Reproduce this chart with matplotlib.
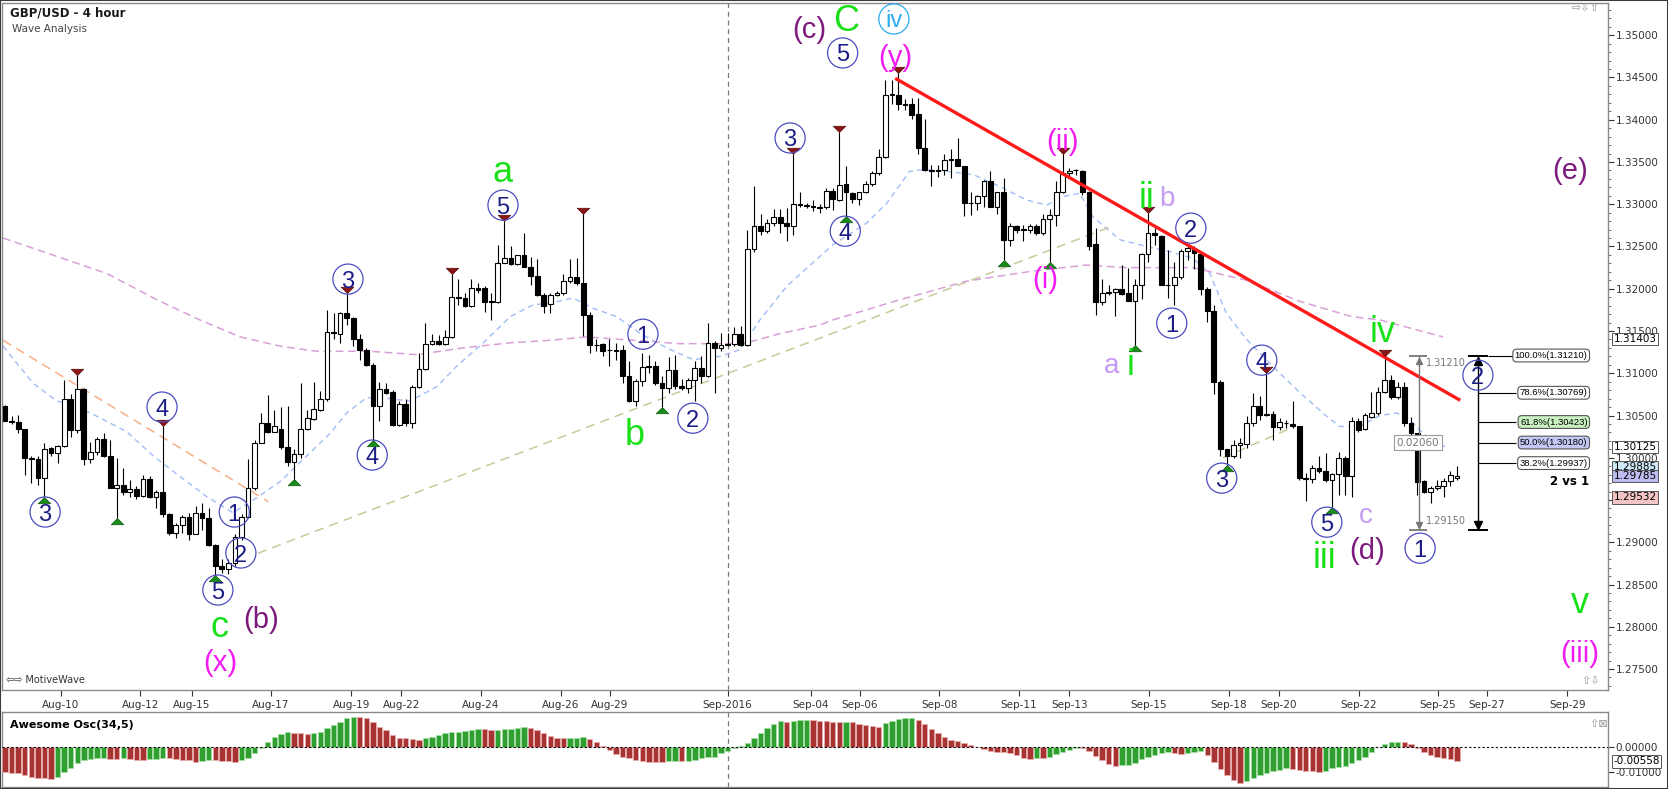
"""GBP/USD 4 hour wave analysis chart with Awesome Oscillator panel."""
import matplotlib

matplotlib.use("Agg")
import matplotlib.pyplot as plt
import matplotlib.transforms as mtransforms
from matplotlib.patches import Rectangle
from matplotlib.ticker import FormatStrFormatter, MultipleLocator
import numpy as np

# ---- 4h candles ----
opens = [
    1.3061, 1.3044, 1.3042, 1.3034, 1.3000, 1.2998, 1.2976, 1.3011, 1.3006, 1.3014,
    1.3069, 1.3033, 1.3081, 1.2998, 1.3007, 1.3022, 1.3002, 1.2964, 1.2968, 1.2960,
    1.2963, 1.2955, 1.2975, 1.2953, 1.2959, 1.2933, 1.2911, 1.2920, 1.2930, 1.2910,
    1.2935, 1.2929, 1.2897, 1.2872, 1.2868, 1.2876, 1.2906, 1.2930, 1.2964, 1.3018,
    1.3041, 1.3031, 1.3034, 1.3013, 1.2995, 1.3005, 1.3034, 1.3046, 1.3057, 1.3070,
    1.3149, 1.3147, 1.3171, 1.3165, 1.3140, 1.3128, 1.3110, 1.3061, 1.3081, 1.3078,
    1.3039, 1.3064, 1.3041, 1.3084, 1.3105, 1.3135, 1.3138, 1.3135, 1.3143, 1.3190,
    1.3189, 1.3179, 1.3201, 1.3201, 1.3184, 1.3184, 1.3231, 1.3236, 1.3229, 1.3240,
    1.3226, 1.3215, 1.3192, 1.3182, 1.3193, 1.3195, 1.3209, 1.3214, 1.3207, 1.3169,
    1.3134, 1.3135, 1.3127, 1.3127, 1.3127, 1.3097, 1.3067, 1.3091, 1.3107, 1.3108,
    1.3088, 1.3083, 1.3104, 1.3085, 1.3083, 1.3092, 1.3106, 1.3097, 1.3136, 1.3130,
    1.3134, 1.3135, 1.3147, 1.3133, 1.3247, 1.3274, 1.3268, 1.3278, 1.3285, 1.3278,
    1.3274, 1.3300, 1.3299, 1.3298, 1.3297, 1.3297, 1.3316, 1.3305, 1.3324, 1.3313,
    1.3306, 1.3314, 1.3324, 1.3337, 1.3356, 1.3429, 1.3429, 1.3418, 1.3418, 1.3407,
    1.3366, 1.3340, 1.3340, 1.3340, 1.3352, 1.3353, 1.3345, 1.3301, 1.3301, 1.3310,
    1.3327, 1.3297, 1.3315, 1.3258, 1.3274, 1.3270, 1.3270, 1.3274, 1.3266, 1.3282,
    1.3287, 1.3314, 1.3337, 1.3340, 1.3339, 1.3315, 1.3253, 1.3184, 1.3195, 1.3196,
    1.3200, 1.3195, 1.3186, 1.3205, 1.3241, 1.3266, 1.3262, 1.3205, 1.3204, 1.3214,
    1.3245, 1.3248, 1.3241, 1.3200, 1.3174, 1.3090, 1.3010, 1.3002, 1.3015, 1.3016,
    1.3041, 1.3061, 1.3051, 1.3052, 1.3036, 1.3041, 1.3040, 1.3037, 1.2976, 1.2975,
    1.2988, 1.2984, 1.2974, 1.2981, 1.3000, 1.2978, 1.3044, 1.3034, 1.3048, 1.3053,
    1.3078, 1.3092, 1.3072, 1.3084, 1.3041, 1.3029, 1.2972, 1.2959, 1.2964, 1.2966,
    1.2972, 1.2976,
]
highs = [
    1.3062, 1.3049, 1.3051, 1.3034, 1.3002, 1.3002, 1.3017, 1.3013, 1.3015, 1.3092,
    1.3076, 1.3098, 1.3082, 1.3019, 1.3025, 1.3029, 1.3021, 1.3000, 1.2988, 1.2974,
    1.2966, 1.2980, 1.2978, 1.2962, 1.3037, 1.2935, 1.2923, 1.2932, 1.2935, 1.2943,
    1.2947, 1.2941, 1.2898, 1.2880, 1.2880, 1.2910, 1.2934, 1.2998, 1.3021, 1.3053,
    1.3074, 1.3057, 1.3060, 1.3061, 1.3010, 1.3088, 1.3057, 1.3090, 1.3079, 1.3175,
    1.3171, 1.3173, 1.3195, 1.3167, 1.3147, 1.3130, 1.3112, 1.3090, 1.3088, 1.3080,
    1.3067, 1.3069, 1.3086, 1.3124, 1.3159, 1.3147, 1.3145, 1.3151, 1.3218, 1.3211,
    1.3195, 1.3212, 1.3207, 1.3203, 1.3195, 1.3252, 1.3280, 1.3250, 1.3240, 1.3266,
    1.3237, 1.3235, 1.3195, 1.3195, 1.3197, 1.3218, 1.3235, 1.3236, 1.3289, 1.3173,
    1.3141, 1.3136, 1.3140, 1.3136, 1.3134, 1.3114, 1.3093, 1.3124, 1.3122, 1.3114,
    1.3097, 1.3119, 1.3122, 1.3093, 1.3094, 1.3114, 1.3120, 1.3160, 1.3138, 1.3148,
    1.3148, 1.3155, 1.3156, 1.3270, 1.3321, 1.3289, 1.3282, 1.3294, 1.3294, 1.3295,
    1.3360, 1.3315, 1.3301, 1.3305, 1.3300, 1.3319, 1.3319, 1.3385, 1.3345, 1.3315,
    1.3315, 1.3327, 1.3339, 1.3365, 1.3447, 1.3447, 1.3455, 1.3425, 1.3426, 1.3426,
    1.3401, 1.3347, 1.3347, 1.3360, 1.3365, 1.3378, 1.3345, 1.3315, 1.3311, 1.3329,
    1.3339, 1.3315, 1.3331, 1.3278, 1.3276, 1.3276, 1.3277, 1.3277, 1.3289, 1.3294,
    1.3327, 1.3360, 1.3343, 1.3342, 1.3341, 1.3316, 1.3272, 1.3212, 1.3205, 1.3201,
    1.3228, 1.3225, 1.3211, 1.3242, 1.3290, 1.3272, 1.3263, 1.3246, 1.3232, 1.3247,
    1.3250, 1.3250, 1.3243, 1.3202, 1.3181, 1.3092, 1.3010, 1.3021, 1.3023, 1.3049,
    1.3077, 1.3073, 1.3100, 1.3055, 1.3047, 1.3045, 1.3067, 1.3038, 1.2982, 1.2991,
    1.3002, 1.3006, 1.2982, 1.3007, 1.3002, 1.3048, 1.3047, 1.3053, 1.3078, 1.3084,
    1.3121, 1.3098, 1.3090, 1.3090, 1.3048, 1.3029, 1.2974, 1.2966, 1.2974, 1.2976,
    1.2984, 1.2990,
]
lows = [
    1.3043, 1.3040, 1.3029, 1.2980, 1.2970, 1.2968, 1.2954, 1.3002, 1.2994, 1.3013,
    1.3025, 1.3029, 1.2992, 1.2994, 1.3003, 1.3001, 1.2964, 1.2929, 1.2956, 1.2954,
    1.2951, 1.2954, 1.2952, 1.2940, 1.2930, 1.2909, 1.2905, 1.2911, 1.2903, 1.2910,
    1.2915, 1.2895, 1.2861, 1.2864, 1.2862, 1.2872, 1.2903, 1.2929, 1.2962, 1.3017,
    1.3029, 1.3030, 1.3010, 1.2990, 1.2975, 1.3000, 1.3033, 1.3045, 1.3055, 1.3067,
    1.3140, 1.3136, 1.3157, 1.3132, 1.3116, 1.3108, 1.3021, 1.3043, 1.3075, 1.3037,
    1.3037, 1.3037, 1.3035, 1.3082, 1.3104, 1.3133, 1.3133, 1.3133, 1.3142, 1.3181,
    1.3178, 1.3178, 1.3195, 1.3173, 1.3163, 1.3183, 1.3230, 1.3228, 1.3228, 1.3226,
    1.3205, 1.3191, 1.3171, 1.3171, 1.3191, 1.3193, 1.3207, 1.3205, 1.3144, 1.3124,
    1.3126, 1.3120, 1.3108, 1.3116, 1.3088, 1.3066, 1.3061, 1.3085, 1.3100, 1.3086,
    1.3060, 1.3077, 1.3081, 1.3080, 1.3077, 1.3067, 1.3088, 1.3095, 1.3077, 1.3126,
    1.3132, 1.3132, 1.3132, 1.3132, 1.3244, 1.3264, 1.3266, 1.3274, 1.3266, 1.3256,
    1.3264, 1.3297, 1.3295, 1.3292, 1.3290, 1.3294, 1.3293, 1.3304, 1.3286, 1.3302,
    1.3299, 1.3313, 1.3322, 1.3335, 1.3355, 1.3419, 1.3411, 1.3411, 1.3401, 1.3360,
    1.3339, 1.3321, 1.3332, 1.3334, 1.3331, 1.3345, 1.3286, 1.3287, 1.3293, 1.3297,
    1.3297, 1.3289, 1.3234, 1.3251, 1.3266, 1.3256, 1.3266, 1.3264, 1.3264, 1.3232,
    1.3274, 1.3313, 1.3332, 1.3334, 1.3311, 1.3246, 1.3169, 1.3181, 1.3193, 1.3168,
    1.3193, 1.3186, 1.3134, 1.3188, 1.3232, 1.3252, 1.3204, 1.3189, 1.3181, 1.3212,
    1.3234, 1.3223, 1.3193, 1.3161, 1.3075, 1.3002, 1.2992, 1.3000, 1.3000, 1.3012,
    1.3037, 1.3045, 1.3050, 1.3021, 1.3033, 1.3035, 1.3035, 1.2974, 1.2949, 1.2970,
    1.2982, 1.2971, 1.2942, 1.2956, 1.2956, 1.2954, 1.3031, 1.3033, 1.3047, 1.3051,
    1.3077, 1.3069, 1.3069, 1.3037, 1.3025, 1.2956, 1.2958, 1.2946, 1.2962, 1.2954,
    1.2966, 1.2974,
]
closes = [
    1.3044, 1.3042, 1.3034, 1.3000, 1.2998, 1.2976, 1.3010, 1.3006, 1.3014, 1.3069,
    1.3033, 1.3081, 1.2998, 1.3007, 1.3022, 1.3002, 1.2964, 1.2968, 1.2960, 1.2963,
    1.2955, 1.2975, 1.2953, 1.2959, 1.2933, 1.2911, 1.2920, 1.2930, 1.2910, 1.2935,
    1.2929, 1.2897, 1.2872, 1.2868, 1.2876, 1.2906, 1.2930, 1.2964, 1.3018, 1.3041,
    1.3031, 1.3037, 1.3013, 1.2995, 1.3005, 1.3034, 1.3047, 1.3058, 1.3070, 1.3149,
    1.3148, 1.3171, 1.3165, 1.3140, 1.3128, 1.3110, 1.3061, 1.3081, 1.3077, 1.3039,
    1.3064, 1.3041, 1.3084, 1.3105, 1.3135, 1.3138, 1.3135, 1.3143, 1.3190, 1.3189,
    1.3179, 1.3201, 1.3199, 1.3184, 1.3185, 1.3231, 1.3236, 1.3229, 1.3240, 1.3226,
    1.3215, 1.3192, 1.3179, 1.3193, 1.3195, 1.3209, 1.3214, 1.3207, 1.3169, 1.3134,
    1.3133, 1.3126, 1.3127, 1.3126, 1.3097, 1.3067, 1.3091, 1.3107, 1.3108, 1.3088,
    1.3083, 1.3104, 1.3085, 1.3083, 1.3092, 1.3106, 1.3097, 1.3136, 1.3130, 1.3134,
    1.3135, 1.3147, 1.3133, 1.3247, 1.3274, 1.3268, 1.3278, 1.3285, 1.3278, 1.3274,
    1.3300, 1.3299, 1.3298, 1.3297, 1.3296, 1.3316, 1.3306, 1.3323, 1.3314, 1.3306,
    1.3314, 1.3324, 1.3337, 1.3356, 1.3429, 1.3431, 1.3418, 1.3417, 1.3406, 1.3366,
    1.3340, 1.3339, 1.3339, 1.3352, 1.3353, 1.3345, 1.3301, 1.3301, 1.3310, 1.3328,
    1.3297, 1.3315, 1.3258, 1.3274, 1.3269, 1.3270, 1.3274, 1.3266, 1.3282, 1.3287,
    1.3314, 1.3337, 1.3339, 1.3340, 1.3315, 1.3250, 1.3184, 1.3195, 1.3196, 1.3200,
    1.3194, 1.3186, 1.3205, 1.3241, 1.3266, 1.3263, 1.3205, 1.3204, 1.3214, 1.3245,
    1.3248, 1.3242, 1.3200, 1.3174, 1.3090, 1.3010, 1.3002, 1.3015, 1.3017, 1.3041,
    1.3061, 1.3051, 1.3051, 1.3036, 1.3042, 1.3041, 1.3038, 1.2976, 1.2975, 1.2988,
    1.2984, 1.2974, 1.2981, 1.3000, 1.2978, 1.3044, 1.3033, 1.3051, 1.3053, 1.3078,
    1.3092, 1.3072, 1.3084, 1.3041, 1.3029, 1.2971, 1.2959, 1.2964, 1.2967, 1.2972,
    1.2980, 1.2979,
]

# date axis (bar position of each label)
tick_labels = ["Aug-10", "Aug-12", "Aug-15", "Aug-17", "Aug-19", "Aug-22", "Aug-24",
               "Aug-26", "Aug-29", "Sep-2016", "Sep-04", "Sep-06", "Sep-08", "Sep-11",
               "Sep-13", "Sep-15", "Sep-18", "Sep-20", "Sep-22", "Sep-25", "Sep-27", "Sep-29"]
tick_bars = [8.5, 20.6, 28.4, 40.5, 52.7, 60.3, 72.4, 84.6, 92.1, 110.0, 122.7, 130.1,
             142.2, 154.3, 162.0, 174.1, 186.3, 193.9, 206.1, 218.1, 225.6, 237.8]
month_break = 110.1

# moving averages (bar, price)
fast_ma_bar = [-0.3, 4.3, 7.9, 10.4, 14.5, 18.5, 22.6, 26.6, 30.7, 34.7, 37.8, 41.9, 49.5,
               52.0, 55.0, 57.5, 61.6, 65.7, 68.7, 72.8, 76.9, 80.4, 83.0, 86.5, 89.5, 93.1,
               96.7, 100.7, 104.8, 108.8, 111.9, 114.9, 119.0, 124.0, 126.0, 131.2, 134.2,
               137.7, 139.8, 143.3, 147.4, 151.4, 155.5, 158.6, 161.1, 163.6, 165.6, 169.7,
               173.8, 177.3, 180.8, 183.4, 185.9, 189.0, 193.0, 197.1, 201.2, 203.2, 206.2,
               209.3, 211.8, 213.8, 216.4, 219.2]
fast_ma = [1.3132, 1.3088, 1.3067, 1.3063, 1.3047, 1.3031, 1.3002, 1.2978, 1.2954, 1.2935,
           1.2950, 1.2972, 1.3029, 1.3053, 1.3071, 1.3071, 1.3067, 1.3084, 1.3108, 1.3136,
           1.3167, 1.3181, 1.3183, 1.3189, 1.3177, 1.3167, 1.3147, 1.3130, 1.3116, 1.3120,
           1.3128, 1.3163, 1.3203, 1.3238, 1.3252, 1.3278, 1.3301, 1.3339, 1.3341, 1.3339,
           1.3335, 1.3321, 1.3305, 1.3299, 1.3309, 1.3313, 1.3285, 1.3258, 1.3250, 1.3244,
           1.3236, 1.3218, 1.3171, 1.3140, 1.3108, 1.3077, 1.3049, 1.3037, 1.3037, 1.3050,
           1.3053, 1.3045, 1.3025, 1.3013]
slow_ma_bar = [-0.3, 15.5, 23.1, 29.7, 35.8, 41.9, 47.4, 55.6, 62.7, 69.7, 76.9, 83.0, 88.5,
               95.6, 102.7, 109.8, 112.9, 118.0, 124.0, 126.0, 136.2, 146.4, 156.5, 164.6,
               170.7, 180.8, 189.0, 197.1, 205.0, 209.3, 218.9]
slow_ma = [1.3260, 1.3218, 1.3187, 1.3163, 1.3143, 1.3132, 1.3126, 1.3126, 1.3122, 1.3130,
           1.3136, 1.3139, 1.3143, 1.3139, 1.3135, 1.3135, 1.3136, 1.3147, 1.3157, 1.3163,
           1.3187, 1.3209, 1.3221, 1.3228, 1.3225, 1.3225, 1.3210, 1.3185, 1.3167, 1.3163,
           1.3143]

# drawn trend lines (bar, price) pairs
red_trend = ([135.5, 221.5], [1.3449, 1.3068])
orange_trend = ([-0.3, 40.1], [1.3139, 1.2948])
olive_trend = ([38.5, 168.2], [1.2887, 1.3273])
olive_trend2 = ([185.4, 196.0], [1.3000, 1.3036])

# swing markers
swing_high_bars = [11, 24, 52, 68, 76, 88, 120, 127, 136, 161, 174, 192, 210]
swing_low_bars = [6, 17, 32, 44, 56, 100, 128, 152, 159, 172, 186, 202]

# wave labels (text, bar, price)
circle_labels = [
    ("3", 6.1, 1.29358), ("4", 23.9, 1.30600), ("1", 34.9, 1.29358), ("2", 35.9, 1.28873),
    ("5", 32.4, 1.28435), ("3", 52.2, 1.32114), ("4", 55.9, 1.30032), ("5", 75.8, 1.32989),
    ("1", 97.1, 1.31462), ("2", 104.7, 1.30468), ("3", 119.5, 1.33784), ("5", 127.5, 1.34790),
    ("4", 127.9, 1.32681), ("1", 177.6, 1.31593), ("2", 180.5, 1.32717), ("4", 191.3, 1.31155),
    ("3", 185.2, 1.29759), ("5", 201.2, 1.29238), ("1", 215.4, 1.28930), ("2", 224.2, 1.30977),
]
green_labels = [("a", 75.8, 1.33263), ("c", 32.7, 1.27879), ("b", 95.9, 1.30151),
                ("C", 128.0, 1.35050), ("ii", 173.7, 1.32953), ("i", 171.4, 1.30979),
                ("iii", 200.9, 1.28695), ("iv", 209.7, 1.31370), ("v", 239.7, 1.28160)]
lavender_labels = [("b", 176.9, 1.32979), ("a", 168.5, 1.31003), ("c", 207.2, 1.29228)]
magenta_labels = [("(x)", 32.7, 1.27571), ("(y)", 135.5, 1.34730), ("(ii)", 160.9, 1.33742),
                  ("(i)", 158.4, 1.32103), ("(iii)", 239.7, 1.27678)]
purple_labels = [("(c)", 122.4, 1.35062), ("(b)", 39.0, 1.28081), ("(d)", 207.3, 1.28897),
                 ("(e)", 238.2, 1.33393)]

# fibonacci retracement of the last swing
fib_high, fib_low = 1.31210, 1.29150
fib_levels = [1.31210, 1.30769, 1.30423, 1.30180, 1.29937]
fib_names = ["100.0%", "78.6%", "61.8%", "50.0%", "38.2%"]

# price-axis markers
axis_marks = [1.31403, 1.30125, 1.29885, 1.29785, 1.29532]

# Awesome Oscillator (x 1e-4)
ao_values = [
    -97.3, -101.3, -104, -110.7, -117.3, -121.3, -124, -125.3,
    -117.3, -97.3, -84, -64, -50.7, -45.3, -44, -41.3,
    -46.7, -48, -44, -46.7, -50.7, -52, -48, -46.7, -41.3,
    -44, -48, -49.3, -52, -57.3, -54.7, -50.7, -52, -53.3, -56, -57.3,
    -50.7, -41.3, -24, -4, 22.7, 40, 53.3, 60, 57.3, 56, 52,
    56, 60, 76, 89.3, 102.7, 116, 122.7,
    121.3, 116, 102.7, 82.7, 69.3, 49.3, 38.7, 36, 32, 30.7,
    36, 42.7, 49.3, 56, 60, 62.7, 65.3, 69.3, 73.3, 72, 69.3,
    70.7, 72, 73.3, 76, 80, 76, 69.3, 58.7, 46.7, 38.7, 36, 37.3, 38.7, 40,
    32, 20, 6.7, -10.7, -28, -37.3, -44, -50.7, -54.7, -57.3, -58.7, -60,
    -56, -54.7, -56,
    -53.3, -50.7, -44, -40, -37.3, -24, -14.7, -4, 4, 16, 38.7, 56, 76, 93.3, 105.3,
    102.7, 105.3, 108, 109.3, 108, 106.7, 105.3, 102.7, 101.3, 102.7,
    100, 93.3, 89.3, 85.3, 82.7, 96, 106.7, 112, 116, 118.7,
    109.3, 93.3, 72, 56, 42.7, 29.3, 25.3, 16, 9.3, 2.7, -6.7, -13.3, -17.3, -18.7,
    -24, -30.7, -44, -45.3, -41.3, -44,
    -37.3, -26.7, -17.3, -10.7, -1.3, -4, -14.7, -33.3, -50.7, -66.7, -74.7,
    -70.7, -69.3, -64, -46.7, -37.3, -30.7, -24, -17.3, -24, -25.3, -21.3, -17.3, -16,
    -30.7, -57.3, -86.7, -110.7, -130.7, -141.3,
    -134.7, -121.3, -110.7, -104, -94.7, -90.7, -84,
    -86.7, -90.7, -94.7, -96, -97.3,
    -94.7, -84, -80, -73.3, -64, -50.7, -37.3, -17.3, 0.5, 12, 20, 22.7,
    21.3, 12, -4, -17.3, -30.7, -37.3, -41.3, -46.7, -55.8,
]
ao_colors = ("r" * 8 + "g" * 8 + "r" * 2 + "g" + "r" * 3 + "g" * 3 + "r" * 5 + "g" * 2
             + "r" * 4 + "g" * 8 + "r" * 3 + "g" * 7 + "r" * 10 + "g" * 9 + "r" * 2 + "g" * 5
             + "r" * 6 + "g" * 3 + "r" * 12 + "g" * 2 + "r" + "g" * 15 + "r" + "g" * 3 + "r" * 5
             + "g" + "r" * 5 + "g" * 5 + "r" * 18 + "g" + "r" + "g" * 5 + "r" * 6 + "g" * 8
             + "r" * 2 + "g" * 3 + "r" * 6 + "g" * 7 + "r" * 5 + "g" * 12 + "r" * 9)
ao_last = -0.00558

W, H = 1668, 789
LABEL_FONT = "Liberation Sans"
GREEN = "#19e019"
MAGENTA = "#f01cf0"
PURPLE = "#7d1a7d"
LAVENDER = "#c49cf4"
NAVY = "#1c1c86"
CIRCLE_EDGE = "#4c4cc0"
CYAN = "#2aaaf0"


def px_box(left, top, right, bottom):
    return [left / W, 1 - bottom / H, (right - left) / W, (bottom - top) / H]


fig = plt.figure(figsize=(W / 100, H / 100), dpi=100)
fig.patch.set_facecolor("white")
ax = fig.add_axes(px_box(2, 3, 1608, 690))
osc = fig.add_axes(px_box(2, 712, 1608, 787))

x = np.arange(len(closes))
o, h, l, c = (np.array(v) for v in (opens, highs, lows, closes))
assert len(o) == len(h) == len(l) == len(c) == len(ao_values) == len(ao_colors)

# ---- candles ----
ax.vlines(x, l, h, color="black", linewidth=0.8, zorder=3)
up = c >= o
body_low = np.minimum(o, c)
body_h = np.maximum(np.abs(c - o), 0.00003)
ax.bar(x, body_h, bottom=body_low, width=0.72, color=np.where(up, "white", "black"),
       edgecolor="black", linewidth=0.8, zorder=4)

# ---- moving averages and trend lines ----
ax.plot(fast_ma_bar, fast_ma, color="#a3bcf6", lw=1.0, dashes=(4, 3), zorder=2)
ax.plot(slow_ma_bar, slow_ma, color="#d7a0d7", lw=1.1, dashes=(5, 3), zorder=2)
ax.plot(*orange_trend, color="#f6b084", lw=1.1, dashes=(6, 4), zorder=2)
ax.plot(*olive_trend, color="#c9c99a", lw=1.1, dashes=(6, 4), zorder=2)
ax.plot(*olive_trend2, color="#c9c99a", lw=1.1, dashes=(6, 4), zorder=2)
ax.plot(*red_trend, color="#ff1a1a", lw=2.4, zorder=5, solid_capstyle="butt")
ax.axvline(month_break, color="#7a7a7a", lw=0.9, dashes=(4, 3), zorder=1)

# ---- swing markers (tip sits on the high / low) ----
down_tri = [(0, 0), (-1, 1), (1, 1), (0, 0)]
up_tri = [(0, 0), (-1, -1), (1, -1), (0, 0)]
ax.plot(x[swing_high_bars], h[swing_high_bars], ls="none", marker=down_tri, ms=9,
        mfc="#8c1616", mec="#5a0a0a", mew=0.5, zorder=5)
ax.plot(x[swing_low_bars], l[swing_low_bars], ls="none", marker=up_tri, ms=9,
        mfc="#1a8c1a", mec="#0a5a0a", mew=0.5, zorder=5)

# ---- wave labels ----
for txt, bx, py in circle_labels:
    ax.scatter([bx], [py], s=470, facecolors="none", edgecolors=CIRCLE_EDGE, linewidths=0.9, zorder=6)
    ax.text(bx, py, txt, color=NAVY, fontsize=17, family=LABEL_FONT, ha="center",
            va="center_baseline", zorder=7)
ax.scatter([135.3], [1.35192], s=470, facecolors="none", edgecolors=CYAN, linewidths=0.9, zorder=6)
ax.text(135.3, 1.35192, "iv", color=CYAN, fontsize=17, family=LABEL_FONT, ha="center",
        va="center_baseline", zorder=7)
for txt, bx, py in green_labels:
    ax.text(bx, py, txt, color=GREEN, fontsize=26, family=LABEL_FONT, ha="center", va="baseline", zorder=7)
for txt, bx, py in lavender_labels:
    ax.text(bx, py, txt, color=LAVENDER, fontsize=20, family=LABEL_FONT, ha="center", va="baseline", zorder=7)
for txt, bx, py in magenta_labels:
    ax.text(bx, py, txt, color=MAGENTA, fontsize=21, family=LABEL_FONT, ha="center", va="center", zorder=7)
for txt, bx, py in purple_labels:
    ax.text(bx, py, txt, color=PURPLE, fontsize=21, family=LABEL_FONT, ha="center", va="center", zorder=7)

# ---- measurement tool ----
mx = 215.3
ax.vlines(mx, fib_low, fib_high, color="#777777", lw=1.0, zorder=5)
ax.hlines([fib_high, fib_low], mx - 1.6, mx + 1.2, color="#777777", lw=1.3, zorder=5)
ax.plot([mx], [fib_high - 0.0006], marker="^", ms=5, color="#777777", zorder=5)
ax.plot([mx], [fib_low + 0.0006], marker="v", ms=5, color="#777777", zorder=5)
ax.text(mx + 1.0, fib_high - 0.0009, f"{fib_high:.5f}", color="#777777", fontsize=7, va="center", zorder=6)
ax.text(mx + 1.0, fib_low + 0.0010, f"{fib_low:.5f}", color="#777777", fontsize=7, va="center", zorder=6)
ax.text(mx - 0.2, 1.30178, f"{fib_high - fib_low:.5f}", color="#777777", fontsize=7.5, ha="center",
        va="center", zorder=6,
        bbox=dict(boxstyle="square,pad=0.25", fc="white", ec="#9a9a9a", lw=0.8))

# ---- fibonacci retracement ----
fx = 224.2
ax.vlines(fx, fib_low, fib_high, color="black", lw=1.0, zorder=5)
ax.hlines([fib_high, fib_low], fx - 1.5, fx + 1.6, color="black", lw=1.4, zorder=5)
ax.plot([fx], [fib_high - 0.0006], marker="^", ms=6, color="black", zorder=5)
ax.plot([fx], [fib_low + 0.0006], marker="v", ms=6, color="black", zorder=5)
fib_fill = {"61.8%": "#c8f0c0", "50.0%": "#c4c8f4"}
for name, lvl in zip(fib_names, fib_levels):
    start = fx + 1.6 if name == "100.0%" else fx
    ax.hlines(lvl, start, 230.0, color="black", lw=0.8, zorder=5)
    ax.text(240.9, lvl, f"{name}({lvl:.5f})", fontsize=6.8, family=LABEL_FONT, ha="right",
            va="center", zorder=6,
            bbox=dict(boxstyle="round,pad=0.2,rounding_size=0.4", fc=fib_fill.get(name, "white"),
                      ec="#555555", lw=0.8))
ax.text(241.2, 1.29715, "2 vs 1", fontsize=8.5, fontweight="bold", ha="right", va="center", zorder=6)

# ---- price axis ----
ax.set_xlim(-0.46, 244.0)
ax.set_ylim(1.27252, 1.35381)
ax.yaxis.tick_right()
ax.yaxis.set_major_locator(MultipleLocator(0.005))
ax.yaxis.set_minor_locator(MultipleLocator(0.001))
ax.yaxis.set_major_formatter(FormatStrFormatter("%.5f"))
ax.tick_params(axis="y", which="major", length=4, width=0.8, pad=1.5, labelsize=7.5,
               colors="#333333")
ax.tick_params(axis="y", which="minor", length=2, width=0.6, colors="#555555")
ax.set_xticks(tick_bars, tick_labels)
ax.tick_params(axis="x", length=4, width=0.8, pad=3, labelsize=7.5, colors="#333333")
for spine in ax.spines.values():
    spine.set_color("#8a8a8a")
    spine.set_linewidth(1.0)

right_axis = mtransforms.blended_transform_factory(ax.transAxes, ax.transData)
mark_fill = ["white", "white", "#cfe8f8", "#bcbcf0", "#f4c4c4"]
for lvl, fc in zip(axis_marks, mark_fill):
    ax.text(1.0035, lvl, f"{lvl:.5f}", transform=right_axis, fontsize=7.5, ha="left", va="center",
            clip_on=False, zorder=8,
            bbox=dict(boxstyle="square,pad=0.12", fc=fc, ec="#555555", lw=0.7))

# ---- Awesome Oscillator ----
ao = np.array(ao_values) * 1e-4
bar_fc = np.where(np.array(list(ao_colors)) == "g", "#2f9f2f", "#a83333")
bar_ec = np.where(np.array(list(ao_colors)) == "g", "#a8e2a8", "#eab0b0")
osc.bar(x, ao, width=0.82, color=bar_fc, edgecolor=bar_ec, linewidth=0.5, zorder=3)
osc.axhline(0, color="black", lw=0.8, dashes=(2, 2), zorder=4)
osc.axvline(month_break, color="#7a7a7a", lw=0.9, dashes=(4, 3), zorder=1)
osc.set_xlim(-0.46, 244.0)
osc.set_ylim(-0.01588, 0.01412)
osc.yaxis.tick_right()
osc.set_yticks([0.0, -0.01])
osc.yaxis.set_major_formatter(FormatStrFormatter("%.5f"))
osc.tick_params(axis="y", length=4, width=0.8, pad=1.5, labelsize=7.5, colors="#333333")
osc.set_xticks([])
for spine in osc.spines.values():
    spine.set_color("#8a8a8a")
    spine.set_linewidth(1.0)
osc_axis = mtransforms.blended_transform_factory(osc.transAxes, osc.transData)
osc.text(1.0035, ao_last, f"{ao_last:.5f}", transform=osc_axis, fontsize=7.5, ha="left", va="center",
         clip_on=False, zorder=8,
         bbox=dict(boxstyle="square,pad=0.12", fc="white", ec="#555555", lw=0.7))
osc.text(0.005, 0.82, "Awesome Osc(34,5)", transform=osc.transAxes, fontsize=8, fontweight="bold",
         va="center")

# ---- header and chrome ----
fig.text(10 / W, 1 - 13 / H, "GBP/USD - 4 hour", fontsize=8.5, fontweight="bold", va="center",
         color="#1a1a1a")
fig.text(12 / W, 1 - 29 / H, "Wave Analysis", fontsize=7.5, va="center", color="#444444")
fig.text(6 / W, 1 - 680 / H, "\u21e6\u21e8 MotiveWave", fontsize=7, va="center", color="#333333")
fig.text(1572 / W, 1 - 8 / H, "\u21e8\u21e9\u21e7", fontsize=8, va="center", color="#9a9a9a")
fig.text(1581 / W, 1 - 681 / H, "\u21e7\u21e9", fontsize=8, va="center", color="#9a9a9a")
fig.text(1589 / W, 1 - 724 / H, "\u21e7\u22a0", fontsize=8, va="center", color="#9a9a9a")
fig.patches.append(Rectangle((0, 0), 1, 1, transform=fig.transFigure, fill=False,
                             ec="#3a3a3a", lw=1.5))

fig.savefig("out.png", dpi=100, facecolor="white")
plt.close(fig)
